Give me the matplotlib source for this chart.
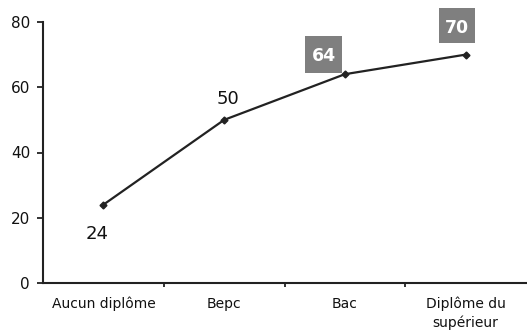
import matplotlib
matplotlib.use("Agg")
import matplotlib.pyplot as plt
import matplotlib.transforms as mtransforms
from matplotlib.patches import Rectangle
from matplotlib.ticker import FixedLocator

categories = ["Aucun diplôme", "Bepc", "Bac", "Diplôme du\nsupérieur"]
values = [24, 50, 64, 70]
y_ticks = [0, 20, 40, 60, 80]

W, H = 527, 330
DPI = 100
fig = plt.figure(figsize=(W / DPI, H / DPI), dpi=DPI)
ax = fig.add_axes([43 / W, (H - 283) / H, (526 - 43) / W, (283 - 22) / H])

x = list(range(len(categories)))
ax.plot(x, values, color="#222222", lw=1.6, marker="D", ms=3.5,
        markerfacecolor="#222222", markeredgecolor="#222222", zorder=3)

ax.set_xlim(-0.5, len(categories) - 0.5)
ax.set_ylim(0, 80)
ax.set_yticks(y_ticks)
ax.set_yticklabels([str(v) for v in y_ticks], fontsize=11, family="DejaVu Sans",
                   color="#111111")
ax.set_xticks(x)
ax.set_xticklabels(categories, fontsize=10, family="DejaVu Sans", linespacing=1.4,
                   color="#111111")
ax.xaxis.set_minor_locator(FixedLocator([i + 0.5 for i in x[:-1]]))
ax.tick_params(axis="x", which="major", length=0, pad=10)
ax.tick_params(axis="x", which="minor", length=3, width=1.3, color="#222222")
ax.tick_params(axis="y", length=4.3, width=1.3, color="#222222", pad=5)

for s in ["top", "right"]:
    ax.spines[s].set_visible(False)
for s in ["left", "bottom"]:
    ax.spines[s].set_linewidth(1.5)
    ax.spines[s].set_color("#222222")

def px(v):
    return v * 72 / DPI

# plain value labels (offsets in pixels from the point)
ax.annotate(str(values[0]), (x[0], values[0]), xytext=(px(-6.5), px(-29.5)),
            textcoords="offset points", ha="center", va="center", fontsize=13,
            family="DejaVu Sans", color="#111111")
ax.annotate(str(values[1]), (x[1], values[1]), xytext=(px(3.5), px(21)),
            textcoords="offset points", ha="center", va="center", fontsize=13,
            family="DejaVu Sans", color="#111111")

# boxed value labels: box centre offset (px) and box size (px)
boxed = [(2, -21, 20, 37, 37), (3, -9, 29, 36, 35)]
for i, dx, dy, bw, bh in boxed:
    trans = fig.dpi_scale_trans + mtransforms.ScaledTranslation(x[i], values[i], ax.transData)
    ax.add_patch(Rectangle(((dx - bw / 2) / DPI, (dy - bh / 2) / DPI), bw / DPI, bh / DPI,
                           transform=trans, facecolor="#7f7f7f", edgecolor="none",
                           clip_on=False, zorder=4))
    ax.annotate(str(values[i]), (x[i], values[i]), xytext=(px(dx), px(dy)),
                textcoords="offset points", ha="center", va="center_baseline",
                fontsize=12.5, fontweight="bold", family="DejaVu Sans",
                color="white", zorder=5)

fig.savefig("out.png", dpi=DPI)
